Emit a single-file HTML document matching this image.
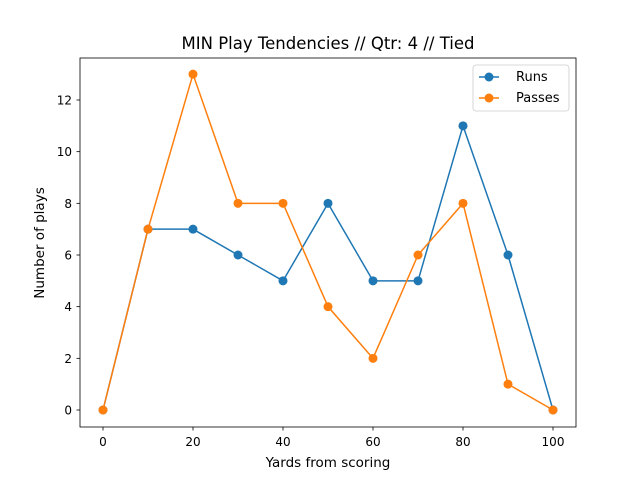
<!DOCTYPE html>
<html><head><meta charset="utf-8"><style>
body{margin:0;background:#fff}
svg{font-family:"DejaVu Sans","Liberation Sans",sans-serif}
</style></head><body>
<svg id="c" width="640" height="480" xmlns="http://www.w3.org/2000/svg">
<rect width="640" height="480" fill="#fff"/>
<text x="328" y="49" font-size="16.5" text-anchor="middle">MIN Play Tendencies // Qtr: 4 // Tied</text>
<text x="328" y="467" font-size="13.5" text-anchor="middle">Yards from scoring</text>
<text transform="translate(44,243) rotate(-90)" font-size="13.5" text-anchor="middle">Number of plays</text>
<g id="ticks"></g>
<g id="lines"></g>
<rect x="80" y="58" width="496" height="369" fill="none" stroke="#000" stroke-width="0.8"/>
<g>
<rect x="473" y="65" width="96" height="46" rx="3" fill="#fff" stroke="#ccc" stroke-width="0.8"/>
<g>
<line x1="479" y1="77" x2="499" y2="77" stroke="#1f77b4" stroke-width="1.5"/><circle cx="489" cy="77" r="4.5" fill="#1f77b4"/>
<text x="516" y="81" font-size="13">Runs</text></g>
<g>
<line x1="479" y1="98" x2="499" y2="98" stroke="#ff7f0e" stroke-width="1.5"/><circle cx="489" cy="98" r="4.5" fill="#ff7f0e"/>
<text x="516" y="102" font-size="13">Passes</text></g>
</g>
</svg>
<script>
const categories=[0,10,20,30,40,50,60,70,80,90,100];
const runs=[0,7,7,6,5,8,5,5,11,6,0];
const passes=[0,7,13,8,8,4,2,6,8,1,0];
const xTicks=[0,20,40,60,80,100];
const yTicks=[0,2,4,6,8,10,12];
const NS="http://www.w3.org/2000/svg";
const xs=v=>103+v*4.5;
const ys=v=>410-v*(310/12);
const tg=document.getElementById('ticks');
function mk(t,a,p){const e=document.createElementNS(NS,t);for(const k in a)e.setAttribute(k,a[k]);p.appendChild(e);return e;}
xTicks.forEach(v=>{
 const l=mk('line',{x1:xs(v),x2:xs(v),y1:427,y2:430.5,stroke:'#000','stroke-width':0.8},tg);
 
 
 const t=mk('text',{x:xs(v),y:446,'font-size':12,'text-anchor':'middle'},tg);t.textContent=v;
 
 
});
yTicks.forEach(v=>{
 const l=mk('line',{x1:76.5,x2:80,y1:ys(v),y2:ys(v),stroke:'#000','stroke-width':0.8},tg);
 
 
 const t=mk('text',{x:72,y:ys(v)+4.5,'font-size':12,'text-anchor':'end'},tg);t.textContent=v;
 
 
});
const lg=document.getElementById('lines');
[[runs,'#1f77b4','runs'],[passes,'#ff7f0e','passes']].forEach(([d,c,n])=>{
 const g=mk('g',{},lg);
 
 
 mk('polyline',{points:d.map((v,i)=>xs(categories[i])+','+ys(v)).join(' '),fill:'none',stroke:c,'stroke-width':1.5},g);
 d.forEach((v,i)=>{
  const p=mk('circle',{cx:xs(categories[i]),cy:ys(v),r:4.5,fill:c},g);
  
  
 });
});
</script>
</body></html>
